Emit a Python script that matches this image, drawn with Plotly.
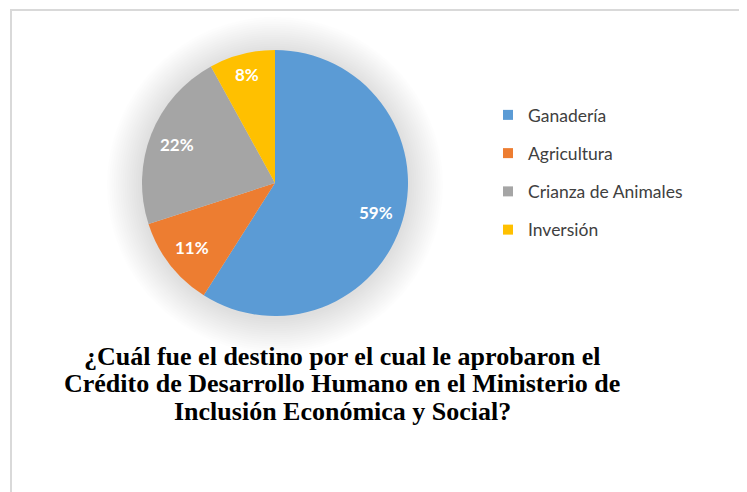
import math
import plotly.graph_objects as go

labels = ['Ganadería', 'Agricultura', 'Crianza de Animales', 'Inversión']
values = [59, 11, 22, 8]
colors = ['#5B9BD5', '#ED7D31', '#A5A5A5', '#FFC000']

title_lines = ['¿Cuál fue el destino por el cual le aprobaron el',
               'Crédito de Desarrollo Humano en el Ministerio de',
               'Inclusión Económica y Social?']

W, H = 747, 492
# pie placement in pixels (center, radius)
cx, cy, r = 267, 175, 133

fig = go.Figure()

fig.add_trace(go.Pie(
    labels=labels,
    values=values,
    marker=dict(colors=colors),
    sort=False,
    direction='clockwise',
    rotation=0,
    textinfo='none',
    domain=dict(x=[(cx - r) / W, (cx + r) / W], y=[1 - (cy + r) / H, 1 - (cy - r) / H]),
    showlegend=False,
    hoverinfo='label+percent',
))

# legend entries (one group each so the gaps can be set)
for lab, col in zip(labels, colors):
    fig.add_trace(go.Scatter(
        x=[None], y=[None], mode='markers', name=lab,
        marker=dict(symbol='square', size=10, color=col),
        legendgroup=lab, showlegend=True,
    ))

# percent labels, placed at the middle angle of each slice
annots = []
total = sum(values)
acc = 0
for v in values:
    mid = (acc + v / 2) / total * 2 * math.pi
    acc += v
    rr = (0.79 if v > 10 else 0.84) * r
    annots.append(dict(
        text=f'{round(100 * v / total)}%', xref='paper', yref='paper',
        x=(cx + rr * math.sin(mid)) / W, y=1 - (cy - rr * math.cos(mid)) / H,
        xanchor='center', yanchor='middle', showarrow=False,
        font=dict(family='Lato', size=17, color='white', weight='bold'),
    ))

for i, line in enumerate(title_lines):
    annots.append(dict(
        text=line, x=334 / W, y=1 - (348 + 27.5 * i) / H, xref='paper', yref='paper',
        xanchor='center', yanchor='middle', showarrow=False,
        font=dict(family='Liberation Serif', size=26, color='black', weight='bold'),
    ))

# soft glow around the pie
shapes = []
for k in range(1, 17):
    rk = r + 2.2 * k
    shapes.append(dict(
        type='circle', xref='paper', yref='paper', layer='below',
        x0=(cx - rk) / W, x1=(cx + rk) / W, y0=1 - (cy + rk + 2) / H, y1=1 - (cy - rk + 2) / H,
        fillcolor='rgba(0,0,0,0.009)', line=dict(width=0),
    ))
shapes.append(dict(
    type='rect', xref='paper', yref='paper',
    x0=3 / W, x1=1.02, y0=-0.02, y1=1 - 2 / H,
    line=dict(color='#D9D9D9', width=2),
))

fig.update_layout(
    width=W, height=H,
    margin=dict(l=0, r=0, t=0, b=0),
    paper_bgcolor='white', plot_bgcolor='rgba(0,0,0,0)',
    xaxis=dict(visible=False), yaxis=dict(visible=False),
    legend=dict(
        x=480 / W, y=1 - 89 / H, xanchor='left', yanchor='top',
        font=dict(family='Lato', size=17.5, color='#404040'),
        tracegroupgap=12.5, bgcolor='rgba(0,0,0,0)',
    ),
    annotations=annots,
    shapes=shapes,
)

fig.write_html('out.html')
